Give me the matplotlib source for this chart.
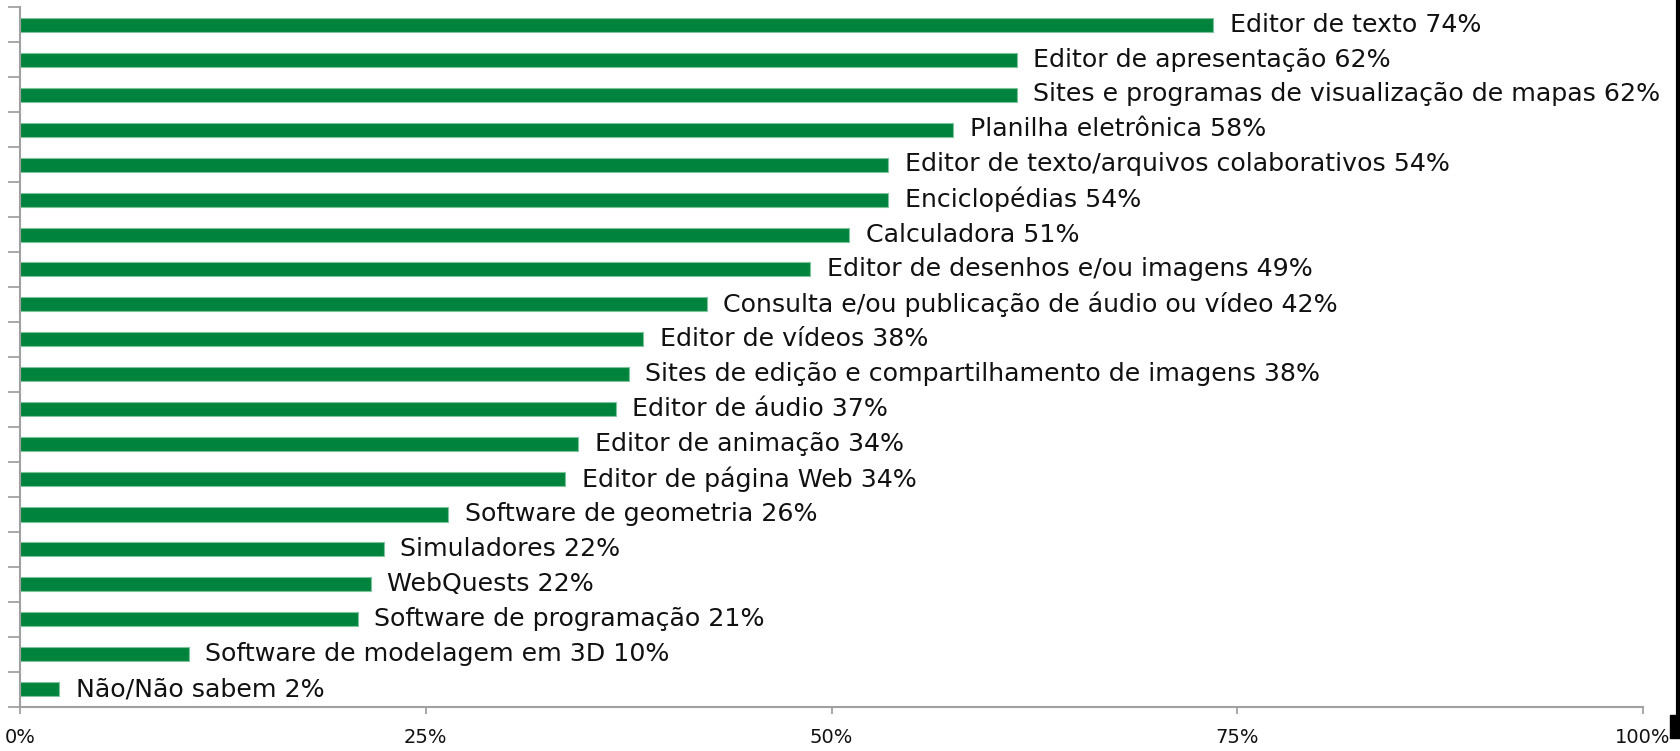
import matplotlib
matplotlib.use("Agg")
import matplotlib.pyplot as plt
from matplotlib.lines import Line2D
from matplotlib.patches import Rectangle

categories = [
    "Editor de texto", "Editor de apresentação",
    "Sites e programas de visualização de mapas", "Planilha eletrônica",
    "Editor de texto/arquivos colaborativos", "Enciclopédias", "Calculadora",
    "Editor de desenhos e/ou imagens",
    "Consulta e/ou publicação de áudio ou vídeo", "Editor de vídeos",
    "Sites de edição e compartilhamento de imagens", "Editor de áudio",
    "Editor de animação", "Editor de página Web", "Software de geometria",
    "Simuladores", "WebQuests", "Software de programação",
    "Software de modelagem em 3D", "Não/Não sabem",
]
values = [73.5, 61.4, 61.4, 57.5, 53.5, 53.5, 51.1, 48.7, 42.3, 38.4,
          37.5, 36.7, 34.4, 33.6, 26.4, 22.4, 21.6, 20.8, 10.4, 2.4]
labels_pct = [74, 62, 62, 58, 54, 54, 51, 49, 42, 38, 38, 37, 34, 34, 26,
              22, 22, 21, 10, 2]
xticks = [0, 25, 50, 75, 100]
xticklabels = ["0%", "25%", "50%", "75%", "100%"]

plt.rcParams['font.family'] = ['DejaVu Sans']

W, H = 1681, 751
fig = plt.figure(figsize=(W / 100, H / 100), dpi=100)
ax = fig.add_axes([20 / W, 1 - 707 / H, (1643 - 20) / W, (707 - 7) / H])

n = len(categories)
ypos = list(range(n))
ax.barh(ypos, values, height=0.4, color="#00843D", edgecolor="#7fc39a",
        linewidth=0.8)
for y, v, c, p in zip(ypos, values, categories, labels_pct):
    ax.annotate(f"{c} {p}%", xy=(v, y), xytext=(12, 0),
                textcoords="offset points", va="center", ha="left",
                fontsize=18.2, color="#111111")

ax.set_ylim(n - 0.5, -0.5)
ax.set_xlim(0, 100)
ax.set_yticks([i - 0.5 for i in range(n + 1)])
ax.set_yticklabels([])
ax.set_xticks(xticks)
ax.set_xticklabels(xticklabels, fontsize=14)
ax.tick_params(axis="y", direction="out", length=9, width=1.2,
               color="#9a9a9a")
ax.tick_params(axis="x", direction="out", length=5, width=1.2,
               color="#9a9a9a", pad=10, labelcolor="#111111")
for s in ["top", "right"]:
    ax.spines[s].set_visible(False)
for s in ["left", "bottom"]:
    ax.spines[s].set_color("#a0a0a0")
    ax.spines[s].set_linewidth(1.5)

# black marks at the right edge
fig.add_artist(Line2D([1678 / W, 1678 / W], [1 - 715 / H, 1.0],
                      transform=fig.transFigure, color="black", lw=3))
fig.add_artist(Rectangle((1670 / W, 1 - 738 / H), 11 / W, 23 / H,
                         transform=fig.transFigure, color="black"))

fig.savefig("out.png", dpi=100)
